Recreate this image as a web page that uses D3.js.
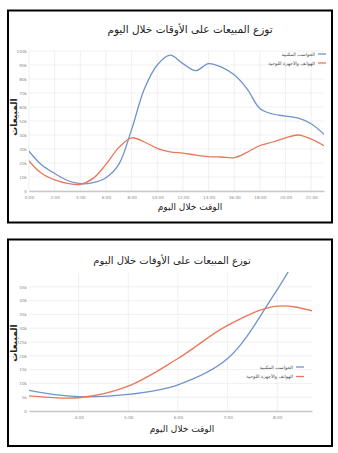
<!DOCTYPE html>
<html>
<head>
<meta charset="utf-8">
<script src="https://cdn.jsdelivr.net/npm/d3@7/dist/d3.min.js"></script>
<style>
  html, body { margin: 0; padding: 0; background: #fff; }
  svg { display: block; }
  text { font-family: "DejaVu Sans", "Noto Sans", sans-serif; }
</style>
</head>
<body>
<svg id="page" width="338" height="453"></svg>
<script>
// Hour of day for each reading
const hours = [0, 1, 2, 3, 4, 5, 6, 7, 8, 9, 10, 11, 12, 13, 14, 15, 16, 17, 18, 19, 20, 21, 22, 23];
// Sales (thousands) per hour
const desktopSales = [28.5, 18.5, 12.5, 7.5, 5.2, 6, 9.5, 19, 44, 73, 90, 97, 91, 86, 91, 88.5, 83, 73, 59, 55, 53.5, 52, 48, 40.5];
const mobileSales  = [21.5, 12.5, 8, 5.5, 4.8, 9, 19, 31, 38, 35, 30.5, 28, 27, 25.7, 24.5, 24.3, 23.8, 27.6, 32.5, 35, 38, 40, 37, 32.4];
const seriesNames = ["الحواسب المكتبية", "الهواتف والأجهزة اللوحية"];
const seriesColors = ["#6f93cc", "#e8775c"];

const chartTitle = "توزع المبيعات على الأوقات خلال اليوم";
const xTitle = "الوقت خلال اليوم";
const yTitle = "المبيعات";

// Axis ticks for the full-day view and the morning close-up
const dayXTicks = [0, 2, 4, 6, 8, 10, 12, 14, 16, 18, 20, 22];
const dayYTicks = [0, 10, 20, 30, 40, 50, 60, 70, 80, 90, 100];
const morningXTicks = [4, 5, 6, 7, 8];
const morningYTicks = [0, 5, 10, 15, 20, 25, 30, 35, 40, 45];

const svg = d3.select("#page");
const fmtHour = h => h + ":00";
const fmtK = v => v === 0 ? "0" : v + "k";

function drawChart(cfg) {
  const g = svg.append("g");

  // frame
  g.append("rect")
    .attr("x", cfg.frame[0]).attr("y", cfg.frame[1])
    .attr("width", cfg.frame[2]).attr("height", cfg.frame[3])
    .attr("fill", "none").attr("stroke", "#000").attr("stroke-width", 2);

  const x = d3.scaleLinear().domain(cfg.xDomain).range([cfg.left, cfg.right]);
  const y = d3.scaleLinear().domain(cfg.yDomain).range([cfg.bottom, cfg.top]);

  // grid
  g.append("g").selectAll("line").data(cfg.yTicks).join("line")
    .attr("x1", cfg.left).attr("x2", cfg.right)
    .attr("y1", d => y(d)).attr("y2", d => y(d))
    .attr("stroke", "#ececec").attr("stroke-width", 0.8);
  g.append("g").selectAll("line").data(cfg.xTicks).join("line")
    .attr("x1", d => x(d)).attr("x2", d => x(d))
    .attr("y1", cfg.top).attr("y2", cfg.bottom)
    .attr("stroke", "#ececec").attr("stroke-width", 0.8);

  // axes
  const xAxis = g.append("g").attr("transform", `translate(0,${cfg.bottom})`)
    .call(d3.axisBottom(x).tickValues(cfg.xTicks).tickFormat(fmtHour).tickSize(0).tickPadding(5));
  xAxis.select(".domain").attr("stroke", "#c8c8c8").attr("stroke-width", 1.6);
  xAxis.selectAll("text").attr("fill", "#8a8a8a").attr("font-size", 4.2);

  const yAxis = g.append("g").attr("transform", `translate(${cfg.left},0)`)
    .call(d3.axisLeft(y).tickValues(cfg.yTicks).tickFormat(fmtK).tickSize(0).tickPadding(2));
  yAxis.select(".domain").remove();
  yAxis.selectAll("text").attr("fill", "#8a8a8a").attr("font-size", 4.2);

  // clip for lines
  const clipId = "clip-" + cfg.id;
  g.append("clipPath").attr("id", clipId).append("rect")
    .attr("x", cfg.left).attr("y", cfg.top - 1)
    .attr("width", cfg.right - cfg.left).attr("height", cfg.bottom - cfg.top + 1);

  const line = d3.line().x(d => x(d[0])).y(d => y(d[1])).curve(d3.curveCatmullRom.alpha(0.5));
  [desktopSales, mobileSales].forEach((vals, i) => {
    g.append("path")
      .datum(hours.map((h, j) => [h, vals[j]]))
      .attr("clip-path", `url(#${clipId})`)
      .attr("fill", "none")
      .attr("stroke", seriesColors[i])
      .attr("stroke-width", 1.3)
      .attr("d", line);
  });

  // titles
  g.append("text").attr("x", cfg.titlePos[0]).attr("y", cfg.titlePos[1])
    .attr("text-anchor", "middle").attr("font-size", cfg.titleSize).attr("fill", "#222")
    .text(chartTitle);
  g.append("text").attr("x", cfg.xTitlePos[0]).attr("y", cfg.xTitlePos[1])
    .attr("text-anchor", "middle").attr("font-size", 9).attr("fill", "#222")
    .text(xTitle);
  g.append("text")
    .attr("transform", `translate(${cfg.yTitlePos[0]},${cfg.yTitlePos[1]}) rotate(-90)`)
    .attr("text-anchor", "middle").attr("font-size", 9).attr("font-weight", "bold").attr("fill", "#222")
    .text(yTitle);

  // legend
  const lg = g.append("g");
  seriesNames.forEach((name, i) => {
    const ly = cfg.legend[1] + i * cfg.legendGap;
    lg.append("line")
      .attr("x1", cfg.legend[0] + 3).attr("x2", cfg.legend[0] + 11)
      .attr("y1", ly).attr("y2", ly)
      .attr("stroke", seriesColors[i]).attr("stroke-width", 1.3);
    lg.append("text")
      .attr("x", cfg.legend[0]).attr("y", ly + 1.5)
      .attr("text-anchor", "end").attr("font-size", 4.6).attr("fill", "#444")
      .text(name);
  });
}

// full day
drawChart({
  id: "day",
  frame: [8, 10.5, 324, 212],
  xDomain: [0, 23], yDomain: [0, 100],
  left: 29, right: 324, top: 51, bottom: 191,
  xTicks: dayXTicks, yTicks: dayYTicks,
  titlePos: [190, 33], titleSize: 10.5,
  xTitlePos: [190, 210],
  yTitlePos: [17, 117],
  legend: [315, 54], legendGap: 9
});

// early morning close-up
drawChart({
  id: "morning",
  frame: [8, 239.5, 324, 206.5],
  xDomain: [3, 8.7], yDomain: [0, 50],
  left: 29, right: 312, top: 273, bottom: 411,
  xTicks: morningXTicks, yTicks: morningYTicks,
  titlePos: [172, 264], titleSize: 10,
  xTitlePos: [182, 432],
  yTitlePos: [17, 343],
  legend: [293, 367], legendGap: 9.5
});
</script>
</body>
</html>
